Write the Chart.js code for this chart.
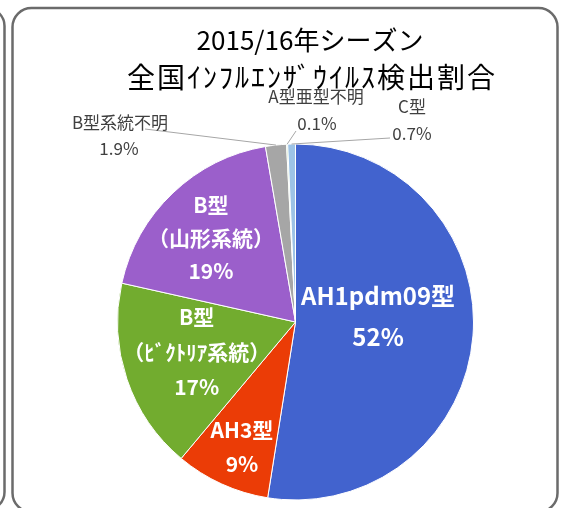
<!DOCTYPE html>
<html>
<head>
<meta charset="utf-8">
<script src="https://cdn.jsdelivr.net/npm/chart.js@4.4.1/dist/chart.umd.min.js"></script>
<style>
    html, body { margin: 0; padding: 0; background: #FFFFFF; }
    #wrap { position: relative; width: 568px; height: 508px; }
</style>
</head>
<body>
<div id="wrap"><canvas id="fluPieChart"></canvas></div>
<script>
// data
const categories = ['AH1pdm09型', 'AH3型', 'B型（ﾋﾞｸﾄﾘｱ系統）', 'B型（山形系統）', 'B型系統不明', 'A型亜型不明', 'C型'];
const shares = [52.5, 8.6, 17.4, 18.8, 1.9, 0.1, 0.7];
const shareLabels = ['52%', '9%', '17%', '19%', '1.9%', '0.1%', '0.7%'];
const titleLines = ['2015/16年シーズン', '全国ｲﾝﾌﾙｴﾝｻﾞｳｲﾙｽ検出割合'];

// label text lines drawn inside the big slices
const insideNames = [['AH1pdm09型'], ['AH3型'], ['B型', '（ﾋﾞｸﾄﾘｱ系統）'], ['B型', '（山形系統）']];
const outsideNames = ['B型系統不明', 'A型亜型不明', 'C型'];

const FONT = '"Noto Sans CJK JP", "Noto Sans", sans-serif';
const TEXT_COLOR = '#404040';
const FRAME_COLOR = '#6B6B6B';
const SLICE_COLORS = ['#4263CE', '#EB3C06', '#72AC2F', '#9B5FCB', '#A6A6A6', '#7DBF55', '#9DC3E6'];

// inside label placement: fraction of radius, angle nudge (deg), font size, line step
const insideLayout = [
    { r: 0.465, da: -8.5, size: 24, step: 41 },
    { r: 0.764, da: -1.3, size: 21, step: 34 },
    { r: 0.58, da: 1.9, size: 21, step: 35 },
    { r: 0.67, da: -1.6, size: 21, step: 33 }
];
// outside labels: name pos, pct pos, leader end
const outsideLayout = [
    { name: [120, 123], pct: [119, 149], lead: [145, 129] },
    { name: [316, 97], pct: [317, 124], lead: [296, 131] },
    { name: [412, 107], pct: [412, 134], lead: [390, 138] }
];

const framePlugin = {
    id: 'frame',
    beforeDraw(chart) {
        const ctx = chart.ctx;
        ctx.save();
        ctx.strokeStyle = FRAME_COLOR;
        ctx.lineWidth = 2.5;
        ctx.beginPath();
        ctx.roundRect(-100, 8, 104.5, 502, 18);
        ctx.stroke();
        ctx.beginPath();
        ctx.roundRect(12.5, 8, 545, 504, 19);
        ctx.stroke();

        ctx.fillStyle = '#000000';
        ctx.textAlign = 'center';
        ctx.textBaseline = 'middle';
        ctx.font = '26px ' + FONT;
        ctx.fillText(titleLines[0], 310, 40);
        ctx.font = '28px ' + FONT;
        ctx.letterSpacing = '2px';
        ctx.fillText(titleLines[1], 312, 77);
        ctx.letterSpacing = '0px';
        ctx.restore();
    }
};

const labelPlugin = {
    id: 'sliceLabels',
    afterDatasetsDraw(chart) {
        const ctx = chart.ctx;
        const arcs = chart.getDatasetMeta(0).data;
        ctx.save();
        ctx.textAlign = 'center';
        ctx.textBaseline = 'middle';

        insideLayout.forEach((lay, i) => {
            const arc = arcs[i];
            const mid = (arc.startAngle + arc.endAngle) / 2 + lay.da * Math.PI / 180;
            const cx = arc.x + Math.cos(mid) * arc.outerRadius * lay.r;
            const cy = arc.y + Math.sin(mid) * arc.outerRadius * lay.r;
            const lines = insideNames[i].concat([shareLabels[i]]);
            ctx.fillStyle = '#FFFFFF';
            ctx.font = 'bold ' + lay.size + 'px ' + FONT;
            const top = cy - (lines.length - 1) * lay.step / 2;
            lines.forEach((t, k) => ctx.fillText(t, cx, top + k * lay.step));
        });

        outsideLayout.forEach((lay, j) => {
            const i = j + 4;
            const arc = arcs[i];
            const mid = (arc.startAngle + arc.endAngle) / 2;
            const sx = arc.x + Math.cos(mid) * arc.outerRadius;
            const sy = arc.y + Math.sin(mid) * arc.outerRadius;
            ctx.strokeStyle = '#A6A6A6';
            ctx.lineWidth = 1;
            ctx.beginPath();
            ctx.moveTo(lay.lead[0], lay.lead[1]);
            ctx.lineTo(sx, sy);
            ctx.stroke();
            ctx.fillStyle = TEXT_COLOR;
            ctx.font = '17px ' + FONT;
            ctx.fillText(outsideNames[j], lay.name[0], lay.name[1]);
            ctx.fillText(shareLabels[i], lay.pct[0], lay.pct[1]);
        });
        ctx.restore();
    }
};

new Chart(document.getElementById('fluPieChart'), {
    type: 'pie',
    data: {
        labels: categories,
        datasets: [{
            data: shares,
            backgroundColor: SLICE_COLORS,
            borderColor: '#FFFFFF',
            borderWidth: 1
        }]
    },
    options: {
        responsive: true,
        maintainAspectRatio: false,
        animation: false,
        events: [],
        layout: { padding: { top: 143, bottom: 7, left: 117, right: 94 } },
        plugins: {
            legend: { display: false },
            title: { display: false },
            tooltip: { enabled: false }
        }
    },
    plugins: [framePlugin, labelPlugin]
});
</script>
</body>
</html>
